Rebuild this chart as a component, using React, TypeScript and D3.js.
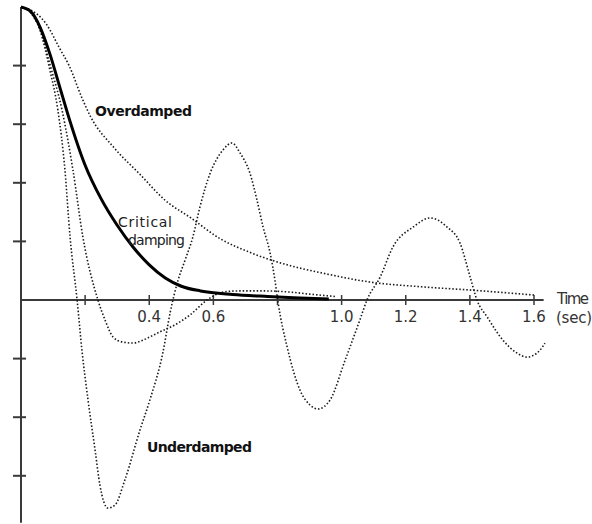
import * as d3 from 'd3';

// time (sec) / displacement pairs
const critical: [number, number][] = [
  [0, 1], [0.03, 0.985], [0.06, 0.93], [0.09, 0.84], [0.12, 0.73], [0.15, 0.62],
  [0.2, 0.46], [0.25, 0.345], [0.3, 0.255], [0.35, 0.18], [0.4, 0.12], [0.45, 0.075],
  [0.5, 0.047], [0.56, 0.031], [0.66, 0.019], [0.77, 0.012], [0.87, 0.007], [0.96, 0.003],
];

const overdamped: [number, number][] = [
  [0, 1], [0.03, 0.99], [0.08, 0.94], [0.12, 0.86], [0.15, 0.8], [0.19, 0.69],
  [0.215, 0.63], [0.29, 0.52], [0.37, 0.43], [0.45, 0.34], [0.53, 0.28], [0.62, 0.21],
  [0.72, 0.16], [0.83, 0.12], [0.94, 0.092], [1.09, 0.061], [1.25, 0.045], [1.4, 0.034],
  [1.6, 0.017],
];

const underdampedLight: [number, number][] = [
  [0, 1], [0.028, 0.983], [0.059, 0.922], [0.09, 0.785], [0.115, 0.648], [0.137, 0.444],
  [0.153, 0.215], [0.175, 0], [0.19, -0.171], [0.209, -0.341], [0.231, -0.512],
  [0.246, -0.631], [0.271, -0.71], [0.293, -0.7], [0.324, -0.614], [0.371, -0.444],
  [0.402, -0.341], [0.443, -0.177], [0.465, -0.044], [0.49, 0.068], [0.512, 0.137],
  [0.536, 0.215], [0.558, 0.317], [0.59, 0.433], [0.63, 0.512], [0.658, 0.536],
  [0.683, 0.502], [0.714, 0.433], [0.736, 0.341], [0.755, 0.249], [0.777, 0.16],
  [0.792, 0.068], [0.802, -0.01], [0.83, -0.16], [0.87, -0.307], [0.901, -0.358],
  [0.926, -0.372], [0.964, -0.341], [1.011, -0.205], [1.057, -0.068], [1.079, 0],
  [1.12, 0.078], [1.16, 0.181], [1.223, 0.249], [1.276, 0.28], [1.329, 0.249],
  [1.369, 0.195], [1.401, 0.078], [1.422, 0], [1.454, -0.058], [1.503, -0.137],
  [1.547, -0.181], [1.578, -0.195], [1.619, -0.171], [1.634, -0.147],
];

const underdampedMid: [number, number][] = [
  [0, 1], [0.028, 0.983], [0.059, 0.925], [0.09, 0.805], [0.128, 0.648], [0.162, 0.444],
  [0.193, 0.215], [0.24, 0], [0.262, -0.068], [0.287, -0.126], [0.315, -0.143],
  [0.349, -0.147], [0.381, -0.137], [0.402, -0.126], [0.433, -0.109], [0.48, -0.085],
  [0.527, -0.051], [0.58, 0], [0.611, 0.02], [0.643, 0.029], [0.683, 0.031],
  [0.761, 0.031], [0.839, 0.027], [0.901, 0.02], [0.979, 0.012],
];

const xTicks = [0.2, 0.4, 0.6, 0.8, 1.0, 1.2, 1.4, 1.6];
const xTickLabels = ['', '0.4', '0.6', '', '1.0', '1.2', '1.4', '1.6'];
const yTicks = [0.8, 0.6, 0.4, 0.2, -0.2, -0.4, -0.6];

const W = 592;
const H = 524;

export default function App() {
  const x = d3.scaleLinear().domain([0, 1.6]).range([21, 534]);
  const y = d3.scaleLinear().domain([1, -0.75]).range([7, 519.75]);

  const line = d3.line<[number, number]>()
    .x(d => x(d[0]))
    .y(d => y(d[1]))
    .curve(d3.curveMonotoneX);

  const dotted = { fill: 'none', stroke: '#1a1a1a', strokeWidth: 1.6, strokeDasharray: '1.5 2' };
  const font = '"DejaVu Sans", sans-serif';

  return (
    <svg width={W} height={H} style={{ position: 'absolute', left: 0, top: 0, background: '#fff' }}>
      {/* axes */}
      <line x1={x(0)} x2={x(0)} y1={y(1)} y2={y(-0.76)} stroke="#3a3a3a" strokeWidth={2} />
      <line x1={x(0)} x2={x(1.63)} y1={y(0)} y2={y(0)} stroke="#3a3a3a" strokeWidth={2} />
      {yTicks.map(v => (
        <line key={v} x1={x(0) - 8} x2={x(0) + 5} y1={y(v)} y2={y(v)} stroke="#3a3a3a" strokeWidth={2} />
      ))}
      {xTicks.map((t, i) => (
        <g key={t}>
          <line x1={x(t)} x2={x(t)} y1={y(0) - 5} y2={y(0) + 5} stroke="#3a3a3a" strokeWidth={1.5} />
          {xTickLabels[i] && (
            <text x={x(t)} y={y(0) + 22} textAnchor="middle" fontFamily={font} fontSize={15} fill="#333">
              {xTickLabels[i]}
            </text>
          )}
        </g>
      ))}
      <text x={557} y={304} fontFamily={font} fontSize={15} fill="#333" textLength={32}>Time</text>
      <text x={556} y={323} fontFamily={font} fontSize={15} fill="#333" textLength={36}>(sec)</text>

      {/* curves */}
      <path d={line(overdamped) ?? ''} {...dotted} />
      <path d={line(underdampedLight) ?? ''} {...dotted} />
      <path d={line(underdampedMid) ?? ''} {...dotted} />
      <path d={line(critical) ?? ''} fill="none" stroke="#000" strokeWidth={3} />

      {/* labels */}
      <text x={95} y={116} fontFamily={font} fontSize={14} fontWeight="bold" fill="#111" textLength={97}>Overdamped</text>
      <text x={118} y={227} fontFamily={font} fontSize={14} fill="#222" textLength={54}>Critical</text>
      <text x={128} y={245} fontFamily={font} fontSize={14} fill="#222" textLength={57}>damping</text>
      <text x={147} y={452} fontFamily={font} fontSize={14} fontWeight="bold" fill="#111" textLength={105}>Underdamped</text>
    </svg>
  );
}
